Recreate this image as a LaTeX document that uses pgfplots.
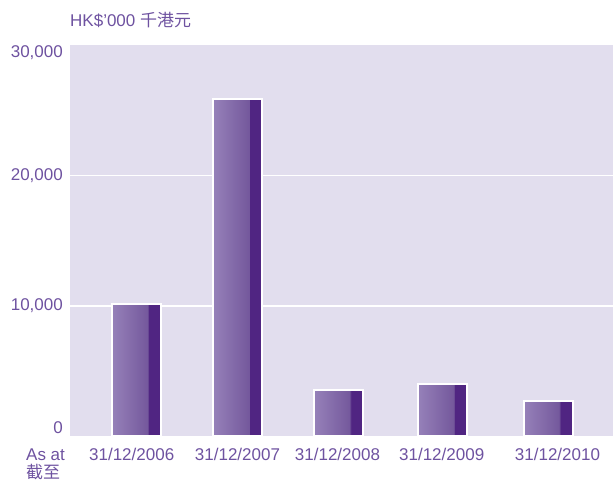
\documentclass[border=0pt]{standalone}
\usepackage{fontspec}
\setmainfont{Liberation Sans}
\newfontfamily\cjk{Noto Sans CJK TC}
\usepackage{pgfplots}
\pgfplotsset{compat=1.18}
\definecolor{bgc}{RGB}{226,222,238}
\definecolor{txt}{RGB}{110,82,160}
\definecolor{barL}{RGB}{150,129,185}
\definecolor{barM}{RGB}{116,88,156}
\definecolor{barD}{RGB}{80,37,130}
\pgfdeclarehorizontalshading{barshade}{100bp}{color(0bp)=(barL); color(25bp)=(barL); color(61.5bp)=(barM); color(62bp)=(barD); color(100bp)=(barD)}
\pgfplotsset{mybar/.style={ybar, bar width=49, bar shift=0pt, draw=white, line width=2pt, fill=barL, shade, shading=barshade}}
\begin{document}
\begin{tikzpicture}
\useasboundingbox (0,0) rectangle (613pt,484pt);
\begin{axis}[
  at={(70pt,47.5pt)}, anchor=south west, scale only axis,
  width=543pt, height=391.5pt,
  xmin=70, xmax=613, ymin=0, ymax=30000,
  scaled y ticks=false,
  axis background/.style={fill=bgc},
  axis line style={draw=none},
  major tick length=0pt,
  tick style={draw=none},
  /pgf/number format/assume math mode=true,
  ytick={10000,20000},
  yticklabels={10{,}000,20{,}000},
  extra y ticks={0,30000},
  extra y tick labels={\raisebox{9pt}[\height][\depth]{0},\raisebox{-7.5pt}[\height][\depth]{30,000}},
  extra y tick style={grid=none},
  ymajorgrids,
  grid style={white, line width=1.8pt},
  xtick={131.7,237.5,337.5,441.7,557.5},
  xticklabels={31/12/2006,31/12/2007,31/12/2008,31/12/2009,31/12/2010},
  every tick label/.append style={font=\fontsize{17}{20}\selectfont, text=txt},
  yticklabel style={anchor=east, inner sep=0pt, xshift=-7pt},
  xticklabel style={anchor=north, inner sep=0pt, yshift=-11pt},
]
\addplot[mybar] coordinates {(136.6,10180)};
\addplot[mybar] coordinates {(237.8,25900)};
\addplot[mybar] coordinates {(338.8,3560)};
\addplot[mybar] coordinates {(442.5,4060)};
\addplot[mybar] coordinates {(548.3,2720)};
\end{axis}
\node[anchor=west, inner sep=0pt, text=txt, font=\fontsize{17}{20}\selectfont] at (70pt,464pt) {HK\$’000 {\cjk 千港元}};
\node[anchor=north west, align=left, inner sep=0pt, text=txt, font=\fontsize{17}{18}\selectfont] at (26pt,35pt) {As at\\{\cjk 截至}};
\end{tikzpicture}
\end{document}
